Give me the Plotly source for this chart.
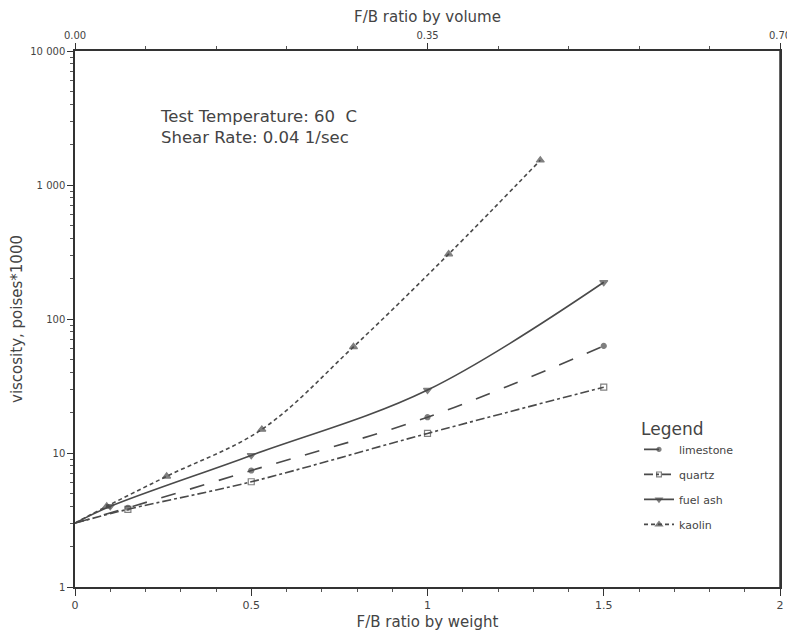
import plotly.graph_objects as go

# ---- data ----
limestone_x = [0.0, 0.15, 0.5, 1.0, 1.5]
limestone_y = [3.0, 3.9, 7.4, 18.5, 63]
quartz_x = [0.0, 0.15, 0.5, 1.0, 1.5]
quartz_y = [3.0, 3.8, 6.1, 14.0, 31]
fuelash_x = [0.0, 0.1, 0.5, 1.0, 1.5]
fuelash_y = [3.0, 4.0, 9.6, 29.5, 188]
kaolin_x = [0.0, 0.09, 0.26, 0.53, 0.79, 1.06, 1.32]
kaolin_y = [3.0, 4.0, 6.7, 15.0, 62, 305, 1530]

x_ticks = [0, 0.5, 1, 1.5, 2]
x_ticktext = ["0", "0.5", "1", "1.5", "2"]
top_ticks = [0.0, 0.35, 0.70]
top_ticktext = ["0.00", "0.35", "0.70"]
y_ticks = [1, 10, 100, 1000, 10000]
y_ticktext = ["1", "10", "100", "1 000", "10 000"]
y_minor = [m * 10 ** e for e in range(4) for m in range(2, 10)]

LINE = "#4a4a4a"
TXT = "#444444"
FONT = "DejaVu Sans"

fig = go.Figure()

series = [
    ("limestone", limestone_x, limestone_y, "longdash", "circle", 5),
    ("quartz", quartz_x, quartz_y, "dashdot", "square-open", 6),
    ("fuel ash", fuelash_x, fuelash_y, "solid", "triangle-down", 7),
    ("kaolin", kaolin_x, kaolin_y, "4px,3px", "triangle-up", 7),
]
for name, xs, ys, dash, sym, ms in series:
    fig.add_trace(go.Scatter(
        x=xs, y=ys, name=name, legendgroup=name, mode="lines+markers",
        line=dict(color=LINE, width=1.6, dash=dash, shape="spline", smoothing=1.0),
        marker=dict(symbol=sym, size=[0] + [ms] * (len(xs) - 1), color=LINE,
                    line=dict(color=LINE, width=1.2)),
    ))

# invisible trace to anchor the top axis
fig.add_trace(go.Scatter(x=[top_ticks[0], top_ticks[-1]], y=[1, 1], xaxis="x2",
                         mode="markers", marker=dict(opacity=0), showlegend=False,
                         hoverinfo="skip"))

fig.update_layout(
    width=787, height=623,
    margin=dict(l=67, r=15, t=43, b=44, autoexpand=False),
    paper_bgcolor="white", plot_bgcolor="white",
    font=dict(family=FONT, color=TXT, size=11),
    showlegend=True,
    legend=dict(
        x=0.80, y=0.325, xanchor="left", yanchor="top",
        title=dict(text="Legend", font=dict(size=17, color=TXT)),
        font=dict(size=11, color=TXT), bgcolor="rgba(0,0,0,0)",
        tracegroupgap=6, itemwidth=30,
    ),
    xaxis=dict(
        range=[0, 2], tickvals=x_ticks, ticktext=x_ticktext, automargin=False,
        showgrid=False, zeroline=False, showline=True, linecolor="#333", linewidth=1.5,
        ticks="outside", ticklen=7, tickcolor="#333",
        minor=dict(dtick=0.1, ticks="outside", ticklen=3, tickcolor="#555", showgrid=False),
        title=dict(text="F/B ratio by weight", font=dict(size=15, color=TXT), standoff=12),
        tickfont=dict(size=11),
    ),
    xaxis2=dict(
        overlaying="x", side="top", range=[0, 0.70], tickvals=top_ticks, automargin=False,
        ticktext=top_ticktext, showgrid=False, zeroline=False, showline=True,
        linecolor="#333", linewidth=1.5, ticks="outside", ticklen=6, tickcolor="#333",
        minor=dict(dtick=0.07, ticks="outside", ticklen=3, tickcolor="#555", showgrid=False),
        title=dict(text="F/B ratio by volume", font=dict(size=15, color=TXT), standoff=4),
        tickfont=dict(size=10),
    ),
    yaxis=dict(
        type="log", range=[0, 4], tickvals=y_ticks, ticktext=y_ticktext, automargin=False,
        showgrid=False, zeroline=False, showline=True, linecolor="#333", linewidth=1.5,
        ticks="outside", ticklen=6, tickcolor="#333", mirror=True,
        minor=dict(tickvals=y_minor, ticks="outside", ticklen=3, tickcolor="#555",
                   showgrid=False),
        title=dict(text="viscosity, poises*1000", font=dict(size=15, color=TXT), standoff=6),
        tickfont=dict(size=10),
    ),
)

fig.add_annotation(
    xref="paper", yref="paper", x=0.118, y=0.9, xanchor="left", yanchor="top",
    text="Test Temperature: 60  C<br>Shear Rate: 0.04 1/sec",
    showarrow=False, align="left", font=dict(size=16.5, color=TXT, family=FONT),
)

# right border line
fig.add_shape(type="line", xref="paper", yref="paper", x0=1, x1=1, y0=0, y1=1,
              line=dict(color="#333", width=1.5))

fig.write_html("out.html")
